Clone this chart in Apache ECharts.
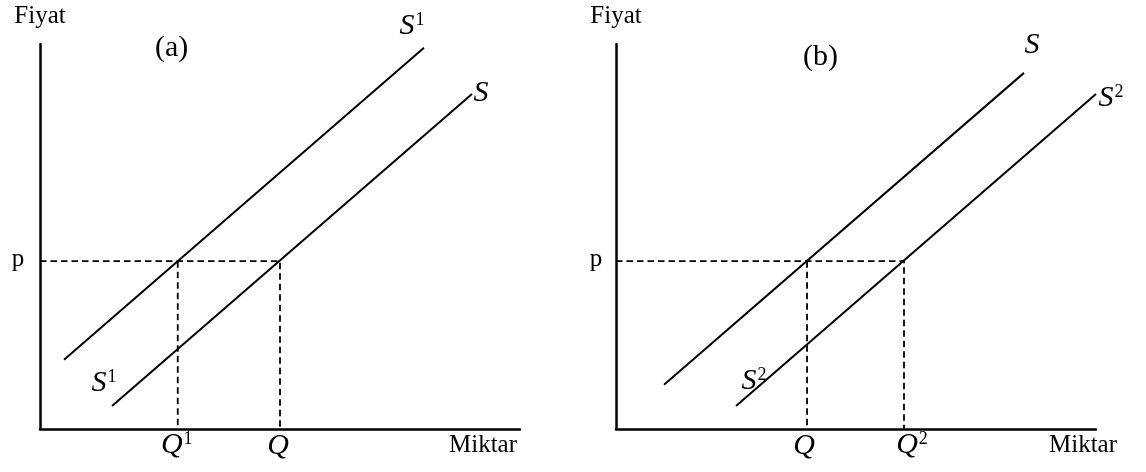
<!DOCTYPE html>
<html>
<head>
<meta charset="utf-8">
<script src="https://cdn.jsdelivr.net/npm/echarts@6/dist/echarts.min.js"></script>
<style>
    html, body { margin: 0; padding: 0; background: #fff; }
    #chart { width: 1146px; height: 472px; }
</style>
</head>
<body>
<div id="chart"></div>
<script>
// eksen aralığı (iki panel de aynı ölçekte)
const xMax = 10;
const yMax = 10;

// panel (a): arz azalır S -> S1
const aCurveS1 = [[0.5, 1.8], [8.0, 9.9]];
const aCurveS = [[1.5, 0.6], [9.0, 8.7]];
const aPrice = 4.36;
const aQty = [2.87, 5.0];
const aQtyLabels = ['Q1', 'Q'];

// panel (b): arz artar S -> S2
const bCurveS = [[1.0, 1.15], [8.5, 9.25]];
const bCurveS2 = [[2.5, 0.6], [10.0, 8.7]];
const bPrice = 4.36;
const bQty = [3.98, 6.0];
const bQtyLabels = ['Q', 'Q2'];

const priceLabel = 'p';
const yName = 'Fiyat';
const xName = 'Miktar';

const serif = "'Liberation Serif', 'Times New Roman', serif";

// "S1" -> S italik + üst simge
function sup(name) {
    const letter = name.charAt(0);
    const rest = name.slice(1);
    return '{i|' + letter + '}' + (rest ? '{s|' + rest + '}' : '');
}

const rich = {
    i: { fontFamily: serif, fontStyle: 'italic', fontSize: 30, color: '#000' },
    s: { fontFamily: serif, fontSize: 18, color: '#000', verticalAlign: 'top', padding: [0, 0, 0, 1] }
};

function lineSeries(idx, data, dashed) {
    return {
        type: 'line',
        xAxisIndex: idx,
        yAxisIndex: idx,
        data: data,
        symbol: 'none',
        silent: true,
        animation: false,
        lineStyle: {
            color: '#000',
            width: dashed ? 1.8 : 2,
            type: dashed ? [6.5, 4] : 'solid'
        },
        z: dashed ? 1 : 2
    };
}

// yazılar için görünmez noktalar
function labelSeries(idx, items) {
    return {
        type: 'scatter',
        xAxisIndex: idx,
        yAxisIndex: idx,
        symbolSize: 0,
        silent: true,
        animation: false,
        itemStyle: { opacity: 1 },
        data: items.map(function (it) {
            return {
                value: it.at,
                label: {
                    show: true,
                    position: 'inside',
                    offset: it.offset,
                    formatter: it.plain ? it.text : sup(it.text),
                    fontFamily: serif,
                    fontSize: 25,
                    color: '#000',
                    opacity: 1,
                    rich: rich
                }
            };
        })
    };
}

function axisPair(idx, nameGap) {
    const common = {
        gridIndex: idx,
        type: 'value',
        min: 0,
        max: xMax,
        axisTick: { show: false },
        axisLabel: { show: false },
        splitLine: { show: false },
        axisLine: { show: true, lineStyle: { color: '#000', width: 2.5 } }
    };
    return {
        x: Object.assign({}, common, {
            name: xName,
            nameLocation: 'end',
            nameGap: nameGap,
            nameTextStyle: {
                fontFamily: serif, fontSize: 25, color: '#000',
                align: 'right', verticalAlign: 'top', padding: [4, 0, 0, 0]
            }
        }),
        y: Object.assign({}, common, {
            max: yMax,
            name: yName,
            nameLocation: 'end',
            nameGap: 15,
            nameTextStyle: { fontFamily: serif, fontSize: 25, color: '#000', align: 'center' }
        })
    };
}

const axA = axisPair(0, -3);
const axB = axisPair(1, 21);

const chart = echarts.init(document.getElementById('chart'), null, { renderer: 'canvas' });

const option = {
    backgroundColor: '#fff',
    animation: false,
    title: [
        { text: '(a)', left: 155, top: 33, padding: 0,
          textStyle: { fontFamily: serif, fontSize: 30, fontWeight: 'normal', color: '#000' } },
        { text: '(b)', left: 803, top: 42, padding: 0,
          textStyle: { fontFamily: serif, fontSize: 30, fontWeight: 'normal', color: '#000' } }
    ],
    grid: [
        { left: 40, top: 44, width: 480, height: 385 },
        { left: 616, top: 44, width: 480, height: 385 }
    ],
    xAxis: [axA.x, axB.x],
    yAxis: [axA.y, axB.y],
    series: [
        // panel (a)
        lineSeries(0, [[0, aPrice], [aQty[1], aPrice], [aQty[1], 0]], true),
        lineSeries(0, [[aQty[0], aPrice], [aQty[0], 0]], true),
        lineSeries(0, aCurveS1, false),
        lineSeries(0, aCurveS, false),
        labelSeries(0, [
            { at: aCurveS1[1], text: 'S1', offset: [-12, -22] },
            { at: aCurveS[1], text: 'S', offset: [9, -1] },
            { at: aCurveS[0], text: 'S1', offset: [-8, -23] },
            { at: [0, aPrice], text: priceLabel, plain: true, offset: [-22, -2] },
            { at: [aQty[0], 0], text: aQtyLabels[0], offset: [-1, 16] },
            { at: [aQty[1], 0], text: aQtyLabels[1], offset: [-2, 17] }
        ]),
        // panel (b)
        lineSeries(1, [[0, bPrice], [bQty[1], bPrice], [bQty[1], 0]], true),
        lineSeries(1, [[bQty[0], bPrice], [bQty[0], 0]], true),
        lineSeries(1, bCurveS, false),
        lineSeries(1, bCurveS2, false),
        labelSeries(1, [
            { at: bCurveS[1], text: 'S', offset: [8, -28] },
            { at: bCurveS2[1], text: 'S2', offset: [15, 4] },
            { at: bCurveS2[0], text: 'S2', offset: [18, -25] },
            { at: [0, bPrice], text: priceLabel, plain: true, offset: [-20, -2] },
            { at: [bQty[0], 0], text: bQtyLabels[0], offset: [-3, 17] },
            { at: [bQty[1], 0], text: bQtyLabels[1], offset: [8, 16] }
        ])
    ]
};

chart.setOption(option);
</script>
</body>
</html>
